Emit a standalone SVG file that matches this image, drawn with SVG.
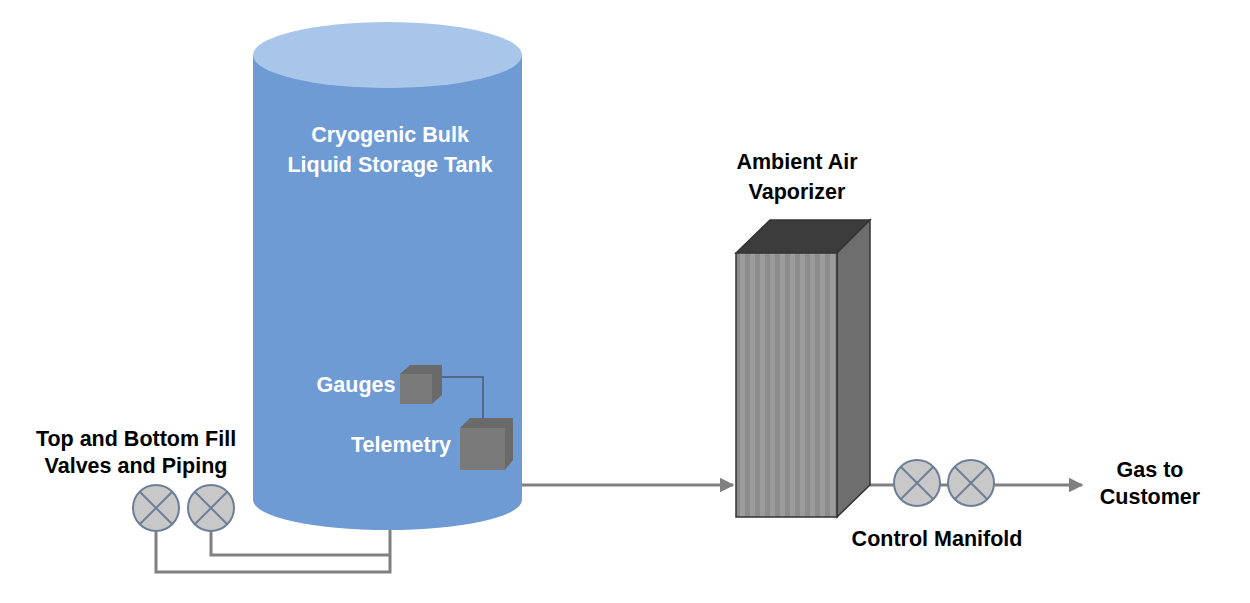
<svg xmlns="http://www.w3.org/2000/svg" width="1250" height="603" viewBox="0 0 1250 603">
<defs>
<style>
text{font-family:"Liberation Sans",Arial,sans-serif;font-weight:bold;font-size:21.5px;text-anchor:middle}
.w{fill:#fff}
.d{fill:#000}
.pipe{fill:none;stroke:#808080;stroke-width:3}
.valve circle{fill:#c8c8c8;stroke:#6d7f96;stroke-width:2}
.valve line{stroke:#6d7f96;stroke-width:2}
</style>
<marker id="ah" viewBox="0 0 10 10" refX="9" refY="5" markerWidth="5" markerHeight="5" orient="auto"><path d="M0,0L10,5L0,10z" fill="#808080"/></marker>
<pattern id="stripes" width="10" height="10" patternUnits="userSpaceOnUse"><rect width="10" height="10" fill="#8c8c8c"/><rect width="5" height="10" fill="#9c9c9c"/></pattern>
</defs>
<rect width="1250" height="603" fill="#fff"/>
<g id="tank">
<path d="M253,55V500A134.5,30 0 0 0 522,500V55Z" fill="#6f9bd5"/>
<ellipse cx="387.5" cy="55" rx="134.5" ry="33" fill="#a8c6ea"/>
<text class="w" x="390" y="142">Cryogenic Bulk</text>
<text class="w" x="390" y="172">Liquid Storage Tank</text>
</g>
<g id="connectors">
<path class="pipe" d="M156,531V572H390V530"/>
<path class="pipe" d="M211,531V555H390"/>
<path class="pipe" d="M522,485H733" marker-end="url(#ah)"/>
<path class="pipe" d="M870,485H1082" marker-end="url(#ah)"/>
<path d="M440,377H483V418" fill="none" stroke="#4a5a70" stroke-width="1.5"/>
</g>
<g id="gauges">
<path d="M400,374L410,365H442V395L432,404Z" fill="#6a6a6a"/>
<rect x="400" y="374" width="32" height="30" fill="#7a7a7a"/>
<text class="w" x="356" y="392">Gauges</text>
</g>
<g id="telemetry">
<path d="M460,428L470,418H513V460L505,470Z" fill="#6a6a6a"/>
<rect x="460" y="428" width="45" height="42" fill="#7a7a7a"/>
<text class="w" x="401" y="452">Telemetry</text>
</g>
<g id="fill-valves">
<g class="valve"><circle cx="156" cy="508" r="23"/><line x1="140" y1="492" x2="172" y2="524"/><line x1="172" y1="492" x2="140" y2="524"/></g>
<g class="valve"><circle cx="211" cy="508" r="23"/><line x1="195" y1="492" x2="227" y2="524"/><line x1="227" y1="492" x2="195" y2="524"/></g>
<text class="d" x="136" y="446">Top and Bottom Fill</text>
<text class="d" x="136" y="473">Valves and Piping</text>
</g>
<g id="vaporizer">
<path d="M736,253L770,220H870L837,253Z" fill="#3c3c3c" stroke="#333" stroke-width="1.5"/>
<path d="M837,253L870,220V485L837,517Z" fill="#6e6e6e" stroke="#333" stroke-width="1.5"/>
<rect x="736" y="253" width="101" height="264" fill="url(#stripes)" stroke="#333" stroke-width="1.5"/>
<text class="d" x="797" y="169">Ambient Air</text>
<text class="d" x="797" y="199">Vaporizer</text>
</g>
<g id="control-manifold">
<g class="valve"><circle cx="917" cy="483" r="23"/><line x1="901" y1="467" x2="933" y2="499"/><line x1="933" y1="467" x2="901" y2="499"/></g>
<g class="valve"><circle cx="971" cy="483" r="23"/><line x1="955" y1="467" x2="987" y2="499"/><line x1="987" y1="467" x2="955" y2="499"/></g>
<text class="d" x="937" y="546">Control Manifold</text>
</g>
<g id="customer">
<text class="d" x="1150" y="477">Gas to</text>
<text class="d" x="1150" y="504">Customer</text>
</g>
</svg>
